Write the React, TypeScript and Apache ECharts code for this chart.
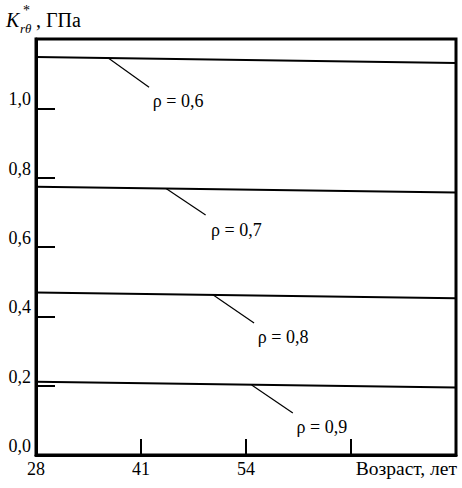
import React, { useEffect, useRef } from "react";
import * as echarts from "echarts";

const ages = [28, 80];
const rhoNames = ["ρ = 0,6", "ρ = 0,7", "ρ = 0,8", "ρ = 0,9"];
const series06 = [1.148, 1.131];
const series07 = [0.774, 0.757];
const series08 = [0.469, 0.452];
const series09 = [0.211, 0.195];
const leaderStart = [[36.9, 1.146], [44.1, 0.769], [49.9, 0.462], [54.7, 0.202]];
const leaderEnd = [[42.0, 1.061], [49.0, 0.692], [55.0, 0.381], [59.8, 0.121]];
const labelPos = [[45.6, 1.021], [52.8, 0.649], [58.6, 0.34], [63.4, 0.081]];
const xTickLabels = ["28", "41", "54"];

const FONT = "Times New Roman, Liberation Serif, DejaVu Serif, serif";

export default function App() {
  const ref = useRef<HTMLDivElement>(null);
  useEffect(() => {
    if (!ref.current) return;
    const chart = echarts.init(ref.current, undefined, { renderer: "svg" });
    const all = [series06, series07, series08, series09];
    const series = all.map((vals, i) => ({
      type: "line",
      data: ages.map((a, j) => [a, vals[j]]),
      symbol: "none",
      lineStyle: { color: "#000", width: 2 },
      silent: true,
      markLine: {
        silent: true,
        symbol: "none",
        label: { show: false },
        lineStyle: { color: "#000", width: 1.2, type: "solid" },
        data: [[{ coord: leaderStart[i] }, { coord: leaderEnd[i] }]],
      },
      markPoint: {
        silent: true,
        symbol: "circle",
        symbolSize: 0,
        label: {
          show: true,
          position: "inside",
          formatter: rhoNames[i],
          color: "#000",
          fontFamily: FONT,
          fontSize: 18,
        },
        data: [{ coord: labelPos[i] }],
      },
    }));
    chart.setOption({
      animation: false,
      backgroundColor: "#fff",
      textStyle: { fontFamily: FONT },
      grid: {
        left: 36,
        right: 6,
        top: 39,
        bottom: 33,
        show: true,
        borderColor: "#000",
        borderWidth: 3,
        containLabel: false,
        outerBoundsMode: "none",
      },
      xAxis: {
        type: "value",
        min: 28,
        max: 80,
        interval: 13,
        splitLine: { show: false },
        axisLine: { show: true, lineStyle: { color: "#000", width: 3 } },
        axisTick: { show: true, inside: true, length: 16, lineStyle: { color: "#000", width: 2 } },
        axisLabel: {
          color: "#000",
          fontFamily: FONT,
          fontSize: 18,
          margin: 5,
          showMaxLabel: true,
          formatter: (v: number) => {
            const idx = Math.round((v - 28) / 13);
            return xTickLabels[idx] ?? "";
          },
        },
      },
      yAxis: {
        type: "value",
        min: 0,
        max: 1.2,
        interval: 0.2,
        splitLine: { show: false },
        axisLine: { show: true, lineStyle: { color: "#000", width: 3 } },
        axisTick: { show: true, inside: true, length: 19, lineStyle: { color: "#000", width: 2 } },
        axisLabel: {
          color: "#000",
          fontFamily: FONT,
          fontSize: 18,
          margin: 5,
          verticalAlign: "bottom",
          showMaxLabel: true,
          formatter: (v: number) => (v > 1.05 ? "" : v.toFixed(1).replace(".", ",")),
        },
      },
      graphic: [
        {
          type: "text",
          left: 6,
          top: 10,
          style: { text: "K", fontFamily: FONT, fontSize: 20, fontStyle: "italic", fill: "#000" },
        },
        {
          type: "text",
          left: 23,
          top: 3,
          style: { text: "*", fontFamily: FONT, fontSize: 14, fill: "#000" },
        },
        {
          type: "text",
          left: 20,
          top: 22,
          style: { text: "rθ", fontFamily: FONT, fontSize: 13, fontStyle: "italic", fill: "#000" },
        },
        {
          type: "text",
          left: 36,
          top: 10,
          style: { text: ", ГПа", fontFamily: FONT, fontSize: 20, fill: "#000" },
        },
        {
          type: "text",
          right: 5,
          top: 458,
          style: { text: "Возраст, лет", fontFamily: FONT, fontSize: 19.5, fill: "#000" },
        },
      ],
      series,
    });
    return () => chart.dispose();
  }, []);
  return (
    <div
      ref={ref}
      style={{ position: "absolute", left: 0, top: 0, width: 462, height: 488 }}
    />
  );
}
